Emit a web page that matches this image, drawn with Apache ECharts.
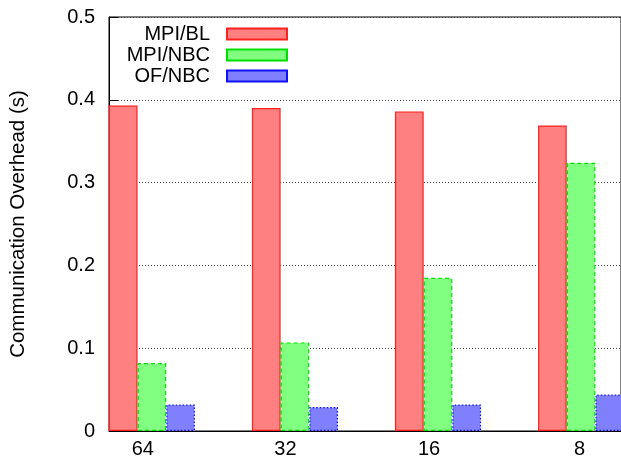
<!DOCTYPE html>
<html>
<head>
<meta charset="utf-8">
<script src="https://cdn.jsdelivr.net/npm/echarts@6/dist/echarts.min.js"></script>
<style>
  html, body { margin: 0; padding: 0; background: #fff; }
  #chart { width: 621px; height: 459px; }
</style>
</head>
<body>
<div id="chart"></div>
<script>
// Process counts (one cluster per count) and communication overhead in seconds
const processCounts = ['64', '32', '16', '8'];
const mpiBL  = [0.393, 0.390, 0.386, 0.369];
const mpiNBC = [0.082, 0.107, 0.185, 0.324];
const ofNBC  = [0.032, 0.029, 0.032, 0.044];

// Tick positions (in cluster units) for the process-count labels
const labelPositions = [-0.064, 0.933, 1.937, 2.990];

const FONT = 'Liberation Sans, Arial, Helvetica, sans-serif';

function pairs(values) {
  return values.map((v, i) => [i, v]);
}

const chart = echarts.init(document.getElementById('chart'), null, { renderer: 'canvas' });

const barW = 28.7;

chart.setOption({
  animation: false,
  backgroundColor: '#fff',
  textStyle: { fontFamily: FONT, color: '#000' },
  grid: {
    left: 107, top: 17, bottom: 27, right: -1,
    show: true, borderColor: '#000', borderWidth: 1, backgroundColor: 'transparent'
  },
  legend: {
    orient: 'vertical',
    align: 'right',
    right: 328,
    top: 19,
    itemWidth: 60,
    itemHeight: 11,
    itemGap: 1,
    icon: 'rect',
    textStyle: { fontFamily: FONT, fontSize: 20, color: '#000', padding: [0, 12, 0, 0] },
    data: ['MPI/BL', 'MPI/NBC', 'OF/NBC']
  },
  xAxis: {
    type: 'value',
    min: -0.30,
    max: 3.279,
    axisLine: { show: true, onZero: false, lineStyle: { color: '#000', width: 1 } },
    axisTick: { show: false },
    splitLine: { show: false },
    axisLabel: {
      customValues: labelPositions,
      fontFamily: FONT,
      fontSize: 20,
      color: '#000',
      margin: 8,
      formatter: function (v) {
        return processCounts[Math.round(v)];
      }
    }
  },
  yAxis: {
    type: 'value',
    min: 0,
    max: 0.5,
    interval: 0.1,
    name: 'Communication Overhead (s)',
    nameLocation: 'middle',
    nameGap: 80,
    nameTextStyle: { fontFamily: FONT, fontSize: 20.5, color: '#000' },
    axisLine: { show: true, onZero: false, lineStyle: { color: '#000', width: 1 } },
    axisTick: { show: true, inside: true, length: 9, lineStyle: { color: '#000' } },
    axisLabel: {
      fontFamily: FONT,
      fontSize: 20,
      color: '#000',
      margin: 14,
      formatter: function (v) {
        return v === 0 ? '0' : v.toFixed(1);
      }
    },
    splitLine: { show: true, lineStyle: { color: '#444', width: 1, type: [1, 2] } }
  },
  series: [
    {
      name: 'MPI/BL', type: 'bar', data: pairs(mpiBL), barWidth: barW, barGap: '0%',
      itemStyle: { color: '#ff8080', borderColor: '#ff2020', borderWidth: 1.2, borderType: 'solid' }
    },
    {
      name: 'MPI/NBC', type: 'bar', data: pairs(mpiNBC), barWidth: barW, barGap: '0%',
      itemStyle: { color: '#80ff80', borderColor: '#00e000', borderWidth: 1.2, borderType: [4, 3] }
    },
    {
      name: 'OF/NBC', type: 'bar', data: pairs(ofNBC), barWidth: barW, barGap: '0%',
      itemStyle: { color: '#8080ff', borderColor: '#1010ff', borderWidth: 1.2, borderType: [1.5, 2] }
    }
  ]
});
</script>
</body>
</html>
